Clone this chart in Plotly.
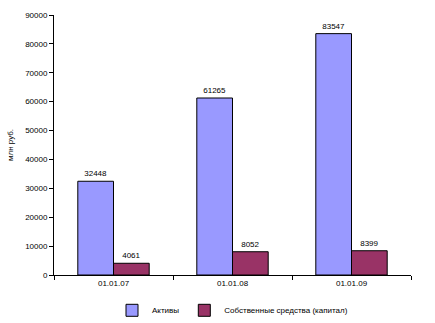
import plotly.graph_objects as go

categories = ["01.01.07", "01.01.08", "01.01.09"]
assets = [32448, 61265, 83547]
equity = [4061, 8052, 8399]
y_ticks = [0, 10000, 20000, 30000, 40000, 50000, 60000, 70000, 80000, 90000]

font = dict(family="Liberation Sans, Arial", size=8, color="black")

fig = go.Figure()
fig.add_trace(go.Bar(
    x=categories, y=assets, name="Активы",
    marker=dict(color="#9999FF", line=dict(color="black", width=1)),
    text=[str(v) for v in assets], textposition="outside", cliponaxis=False,
    textfont=font,
))
fig.add_trace(go.Bar(
    x=categories, y=equity, name="Собственные средства (капитал)",
    marker=dict(color="#993366", line=dict(color="black", width=1)),
    text=[str(v) for v in equity], textposition="outside", cliponaxis=False,
    textfont=font,
))

fig.update_layout(
    width=435, height=323,
    margin=dict(l=54, r=24, t=15, b=48, autoexpand=False),
    paper_bgcolor="white", plot_bgcolor="white",
    font=font,
    barmode="group", bargap=0.4, bargroupgap=0,
    showlegend=True,
    legend=dict(orientation="h", x=0.5, xanchor="center", y=-0.08, yanchor="top",
                font=dict(family="Liberation Sans, Arial", size=8, color="black"),
                entrywidth=0, tracegroupgap=0, itemwidth=30),
    xaxis=dict(
        showline=True, linecolor="black", linewidth=1,
        ticks="outside", tickson="boundaries", ticklen=4, tickcolor="black",
        showgrid=False, tickfont=font,
    ),
    yaxis=dict(
        range=[0, 90000], tickvals=y_ticks, ticktext=[str(v) for v in y_ticks],
        showline=True, linecolor="black", linewidth=1,
        ticks="outside", ticklen=4, tickcolor="black",
        showgrid=False, zeroline=False, tickfont=font,
        title=dict(text="млн руб.", font=font, standoff=10),
    ),
)

fig.write_html("out.html")
